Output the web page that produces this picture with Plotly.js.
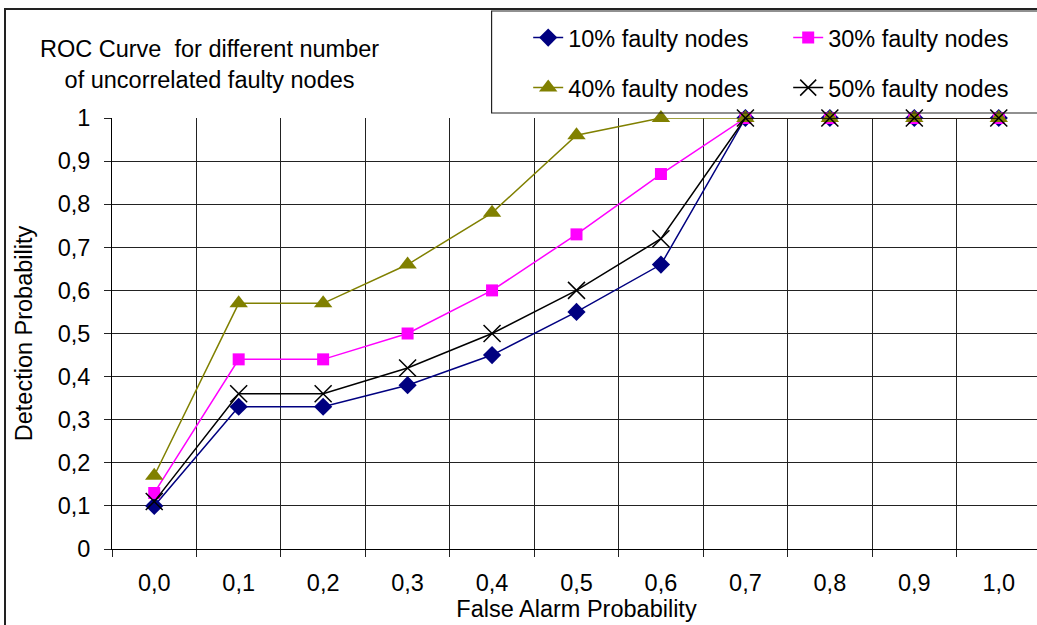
<!DOCTYPE html>
<html>
<head>
<meta charset="utf-8">
<script src="https://cdn.plot.ly/plotly-3.0.1.min.js"></script>
<style>
html,body{margin:0;padding:0;overflow:hidden;background:#fff;width:1037px;height:625px;}
#frame{position:absolute;left:4px;top:8px;width:1100px;height:700px;border:2px solid #222;box-sizing:border-box;}
#chart{position:absolute;left:0;top:0;}
</style>
</head>
<body>
<div id="frame"></div>
<div id="chart"></div>
<script>
// Data
var categories = ['0,0','0,1','0,2','0,3','0,4','0,5','0,6','0,7','0,8','0,9','1,0'];
var seriesNames = ['10% faulty nodes','30% faulty nodes','40% faulty nodes','50% faulty nodes'];
var p10 = [0.10,0.33,0.33,0.38,0.45,0.55,0.66,1,1,1,1];
var p30 = [0.13,0.44,0.44,0.50,0.60,0.73,0.87,1,1,1,1];
var p40 = [0.17,0.57,0.57,0.66,0.78,0.96,1,1,1,1,1];
var p50 = [0.11,0.36,0.36,0.42,0.50,0.60,0.72,1,1,1,1];

var FONT = '"Liberation Sans", Arial, sans-serif';
var FS = 23.5;

function tr(name, y, color, symbol, size, legend, lw) {
  return {
    type:'scatter', mode:'lines+markers', name:name, x:categories, y:y,
    line:{color:color, width:lw||1.5},
    marker:{color:color, symbol:symbol, size:size, line:{color:color, width: symbol==='x-thin-open'?1.5:0}},
    cliponaxis:false, legend:legend
  };
}

var data = [
  tr(seriesNames[0], p10, '#000080', 'diamond', 14, 'legend'),
  tr(seriesNames[1], p30, '#FF00FF', 'square', 12, 'legend'),
  tr(seriesNames[2], p40, '#808000', 'triangle-up', 16, 'legend2'),
  tr(seriesNames[3], p50, '#000000', 'x-thin-open', 17, 'legend2')
];

var legendCommon = {
  orientation:'h', xanchor:'left', yanchor:'middle',
  entrywidth:215, entrywidthmode:'pixels',
  font:{family:FONT, size:FS, color:'#000'},
  bgcolor:'rgba(0,0,0,0)', borderwidth:0, traceorder:'normal'
};

var layout = {
  width:1060, height:640,
  margin:{l:112, r:13, t:118, b:91, pad:0},
  paper_bgcolor:'rgba(0,0,0,0)', plot_bgcolor:'rgba(0,0,0,0)',
  font:{family:FONT, size:FS, color:'#000'},
  showlegend:true,
  legend:Object.assign({x:0.448, y:1.186}, legendCommon),
  legend2:Object.assign({x:0.448, y:1.07}, legendCommon),
  xaxis:{
    type:'category', range:[-0.5,10.5], tickson:'boundaries',
    showgrid:true, gridcolor:'#222', gridwidth:1,
    showline:true, linecolor:'#000', linewidth:1,
    ticks:'outside', ticklen:7, tickcolor:'#222',
    ticklabelstandoff:13,
    tickfont:{family:FONT, size:FS, color:'#000'},
    title:{text:'False Alarm Probability', font:{family:FONT, size:FS, color:'#000'}, standoff:3},
    zeroline:false, fixedrange:true
  },
  yaxis:{
    range:[0,1], dtick:0.1, tick0:0,
    showgrid:true, gridcolor:'#222', gridwidth:1,
    showline:true, linecolor:'#000', linewidth:1,
    ticks:'outside', ticklen:7, tickcolor:'#222',
    ticklabelstandoff:9,
    tickfont:{family:FONT, size:FS, color:'#000'},
    title:{text:'Detection Probability', font:{family:FONT, size:FS, color:'#000'}, standoff:18},
    zeroline:false, fixedrange:true
  },
  separators:', ',
  shapes:[
    {type:'rect', xref:'paper', yref:'paper', x0:0.4086, x1:1.2, y0:1.0116, y1:1.2483,
     line:{color:'#222', width:1.2}, fillcolor:'rgba(0,0,0,0)'}
  ],
  annotations:[
    {xref:'paper', yref:'paper', x:0.1048, y:1.125, xanchor:'center', yanchor:'middle',
     text:'ROC Curve\u00a0 for different number<br>of uncorrelated faulty nodes',
     showarrow:false, align:'center', font:{family:FONT, size:FS, color:'#000'}}
  ],
  hovermode:false
};

Plotly.newPlot('chart', data, layout, {displayModeBar:false, staticPlot:true});
</script>
</body>
</html>
